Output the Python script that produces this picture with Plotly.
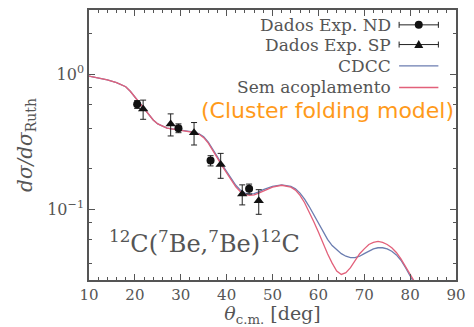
import plotly.graph_objects as go

# Elastic scattering 12C(7Be,7Be)12C: ratio to Rutherford
theta_nocpl = [10, 12, 14, 16, 18, 19, 20, 21, 22, 23, 24, 25, 26, 27, 28, 29, 30, 32, 33, 34, 35, 36, 37, 38, 39, 40, 41, 42, 43, 44, 45,
               46, 47, 48, 50, 52, 54, 55, 56, 57, 58, 59, 60, 61, 62, 63, 64, 65, 66, 67, 68, 69, 70, 71, 72, 73, 74, 75, 76, 77, 78, 79, 80, 81, 82]
sigma_nocpl = [0.97, 0.94, 0.91, 0.87, 0.81, 0.75, 0.68, 0.61, 0.55, 0.50, 0.46, 0.43, 0.415, 0.40, 0.395, 0.39, 0.385, 0.378, 0.37, 0.36, 0.34, 0.31, 0.275, 0.24, 0.21, 0.185, 0.163, 0.147, 0.135, 0.129, 0.127,
               0.128, 0.132, 0.137, 0.146, 0.151, 0.146, 0.139, 0.127, 0.112, 0.096, 0.081, 0.068, 0.056, 0.047, 0.040, 0.035, 0.033, 0.034, 0.037, 0.042, 0.047, 0.051, 0.055, 0.057, 0.058, 0.057, 0.055, 0.052, 0.048, 0.043, 0.038, 0.033, 0.029, 0.025]

theta_cdcc = [10, 12, 14, 16, 18, 19, 20, 21, 22, 23, 24, 25, 26, 27, 28, 29, 30, 32, 33, 34, 35, 36, 37, 38, 39, 40, 41, 42, 43, 44, 45,
              46, 47, 48, 50, 52, 54, 55, 56, 57, 58, 59, 60, 61, 62, 63, 64, 65, 66, 67, 68, 69, 70, 71, 72, 73, 74, 75, 76, 77, 78, 79, 80, 81, 82]
sigma_cdcc = [0.97, 0.94, 0.91, 0.87, 0.81, 0.75, 0.68, 0.61, 0.55, 0.50, 0.46, 0.43, 0.415, 0.40, 0.395, 0.39, 0.385, 0.38, 0.373, 0.363, 0.345, 0.315, 0.28, 0.245, 0.215, 0.19, 0.168, 0.151, 0.139, 0.132, 0.13,
              0.131, 0.135, 0.14, 0.148, 0.152, 0.148, 0.142, 0.132, 0.119, 0.105, 0.091, 0.079, 0.068, 0.06, 0.054, 0.05, 0.047, 0.045, 0.044, 0.044, 0.045, 0.047, 0.049, 0.051, 0.052, 0.052, 0.051, 0.049, 0.046, 0.042, 0.037, 0.032, 0.028, 0.025]

# Experimental data
theta_nd = [20.5, 29.5, 36.5, 44.9]
sigma_nd = [0.60, 0.40, 0.23, 0.142]
err_nd = [0.04, 0.03, 0.02, 0.012]

theta_sp = [21.8, 27.8, 32.9, 38.7, 43.4, 47.0]
sigma_sp = [0.555, 0.43, 0.37, 0.215, 0.13, 0.116]
err_sp = [0.09, 0.08, 0.07, 0.045, 0.022, 0.024]

x_ticks = [10, 20, 30, 40, 50, 60, 70, 80, 90]
y_ticks = [0.1, 1]
y_ticktext = ["10<sup>\u22121</sup>", "10<sup>0</sup>"]
y_minor = [0.04, 0.06, 0.08, 0.2, 0.4, 0.6, 0.8, 2]

legend_labels = ["Dados Exp. ND", "Dados Exp. SP", "CDCC", "Sem acoplamento"]

RED = "#e2607a"
BLUE = "#6b7db0"
AXIS = "#555555"
TEXT = "#555555"
SERIF = "DejaVu Serif, Liberation Serif, serif"

fig = go.Figure()
fig.add_trace(go.Scatter(x=theta_cdcc, y=sigma_cdcc, mode="lines",
                         line=dict(color=BLUE, width=1.3), name=legend_labels[2]))
fig.add_trace(go.Scatter(x=theta_nocpl, y=sigma_nocpl, mode="lines",
                         line=dict(color=RED, width=1.3), name=legend_labels[3]))
fig.add_trace(go.Scatter(x=theta_nd, y=sigma_nd, mode="markers", name=legend_labels[0],
                         marker=dict(symbol="circle", size=8, color="#111111"),
                         error_y=dict(type="data", array=err_nd, color="#222222", thickness=1, width=3)))
fig.add_trace(go.Scatter(x=theta_sp, y=sigma_sp, mode="markers", name=legend_labels[1],
                         marker=dict(symbol="triangle-up", size=9, color="#111111"),
                         error_y=dict(type="data", array=err_sp, color="#222222", thickness=1, width=3)))

# Hand-built legend: right-aligned labels followed by their keys
rows_y = [0.945, 0.872, 0.793, 0.713]
key_x0, key_x1, key_xc = 0.845, 0.952, 0.8985
shapes = []
annotations = []
for label, ry in zip(legend_labels, rows_y):
    annotations.append(dict(x=0.828, y=ry, xref="paper", yref="paper", text=label,
                            xanchor="right", yanchor="middle", showarrow=False,
                            font=dict(family=SERIF, size=17, color=TEXT)))
for i, ry in enumerate(rows_y[:2]):
    shapes.append(dict(type="line", xref="paper", yref="paper", x0=key_x0, x1=key_x1, y0=ry, y1=ry,
                       line=dict(color="#222222", width=1)))
    for ex in (key_x0, key_x1):
        shapes.append(dict(type="line", xref="paper", yref="paper", xsizemode="pixel", ysizemode="pixel",
                           xanchor=ex, yanchor=ry, x0=0, x1=0, y0=-3, y1=3,
                           line=dict(color="#222222", width=1)))
    if i == 0:
        shapes.append(dict(type="circle", xref="paper", yref="paper", xsizemode="pixel", ysizemode="pixel",
                           xanchor=key_xc, yanchor=ry, x0=-4, x1=4, y0=-4, y1=4,
                           fillcolor="#111111", line=dict(color="#111111", width=0)))
    else:
        shapes.append(dict(type="path", xref="paper", yref="paper", xsizemode="pixel", ysizemode="pixel",
                           xanchor=key_xc, yanchor=ry, path="M -4.5 -3.5 L 4.5 -3.5 L 0 4.5 Z",
                           fillcolor="#111111", line=dict(color="#111111", width=0)))
shapes.append(dict(type="line", xref="paper", yref="paper", x0=key_x0, x1=key_x1, y0=rows_y[2], y1=rows_y[2],
                   line=dict(color=BLUE, width=1.3)))
shapes.append(dict(type="line", xref="paper", yref="paper", x0=key_x0, x1=key_x1, y0=rows_y[3], y1=rows_y[3],
                   line=dict(color=RED, width=1.3)))

annotations.append(dict(x=1.0, y=0.628, xref="paper", yref="paper", text="(Cluster folding model)",
                        xanchor="right", yanchor="middle", showarrow=False,
                        font=dict(family="DejaVu Sans, Noto Sans, sans-serif", size=22, color="#ff9a1a")))
annotations.append(dict(x=0.05, y=0.14, xref="paper", yref="paper",
                        text="<sup>12</sup>C(<sup>7</sup>Be,<sup>7</sup>Be)<sup>12</sup>C",
                        xanchor="left", yanchor="middle", showarrow=False,
                        font=dict(family=SERIF, size=24, color=TEXT)))

fig.update_layout(
    width=474, height=327,
    margin=dict(l=89, r=11, t=8, b=47),
    paper_bgcolor="white", plot_bgcolor="white",
    showlegend=False,
    shapes=shapes, annotations=annotations,
    xaxis=dict(range=[10, 90], tickvals=x_ticks, ticks="inside", ticklen=6, tickwidth=1, tickcolor=AXIS,
               showline=True, linecolor=AXIS, linewidth=1.5, mirror="allticks", showgrid=False, zeroline=False,
               tickfont=dict(family=SERIF, size=15, color=TEXT),
               minor=dict(dtick=2, ticks="inside", ticklen=3, tickcolor=AXIS, showgrid=False),
               title=dict(text="<i>\u03b8</i><sub>c.m.</sub> [deg]", standoff=2,
                          font=dict(family=SERIF, size=19, color=TEXT))),
    yaxis=dict(type="log", range=[-1.5229, 0.4771], tickvals=y_ticks, ticktext=y_ticktext,
               ticks="inside", ticklen=6, tickwidth=1, tickcolor=AXIS,
               showline=True, linecolor=AXIS, linewidth=1.5, mirror="allticks", showgrid=False, zeroline=False,
               tickfont=dict(family=SERIF, size=16, color=TEXT),
               minor=dict(tickvals=y_minor, ticks="inside", ticklen=3, tickcolor=AXIS, showgrid=False),
               title=dict(text="<i>d\u03c3/d\u03c3</i><sub>Ruth</sub>", standoff=9,
                          font=dict(family=SERIF, size=20, color=TEXT))),
)

fig.write_html("out.html")
